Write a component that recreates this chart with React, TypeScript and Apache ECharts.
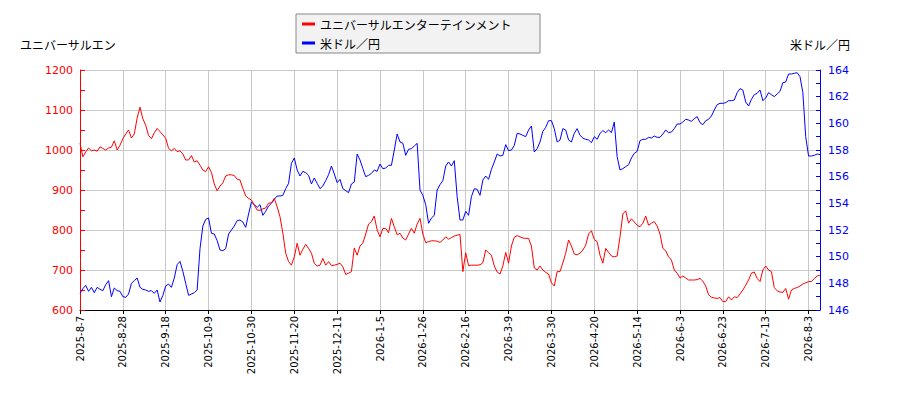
import * as echarts from "echarts";
import { useEffect, useRef } from "react";

const RED = "#ff0000";
const BLUE = "#0000ff";
const GRID = "#c8c8c8";

const stockName = "ユニバーサルエンターテインメント";
const fxName = "米ドル／円";

// labels shown every 15 trading days
const tickLabels = [
  "2025-8-7", "2025-8-28", "2025-9-18", "2025-10-9", "2025-10-30", "2025-11-20",
  "2025-12-11", "2026-1-5", "2026-1-26", "2026-2-16", "2026-3-9", "2026-3-30",
  "2026-4-20", "2026-5-14", "2026-6-3", "2026-6-23", "2026-7-13", "2026-8-3",
];

// share price (yen), one value per trading day
const stockPrice = [
  1017, 983, 995, 1005, 998, 1000, 997, 1008, 1004, 1000,
  1005, 1007, 1023, 1000, 1012, 1028, 1040, 1050, 1030, 1040,
  1080, 1107, 1078, 1062, 1036, 1028, 1043, 1054, 1046, 1038,
  1029, 1004, 998, 1004, 996, 998, 990, 975, 975, 986,
  970, 973, 962, 950, 946, 958, 944, 915, 898, 910,
  918, 935, 938, 938, 936, 927, 925, 904, 885, 879,
  875, 862, 850, 849, 853, 855, 867, 868, 879, 858,
  833, 792, 742, 721, 712, 733, 767, 737, 752, 764,
  754, 742, 717, 710, 712, 729, 712, 721, 711, 712,
  714, 717, 708, 689, 692, 696, 755, 737, 760, 767,
  790, 815, 821, 835, 800, 783, 804, 804, 793, 829,
  808, 788, 792, 780, 775, 790, 804, 792, 815, 829,
  790, 768, 771, 773, 773, 772, 769, 775, 783, 777,
  781, 785, 787, 789, 696, 743, 711, 712, 712, 712,
  713, 718, 750, 743, 737, 710, 695, 690, 710, 744,
  717, 760, 782, 786, 783, 780, 779, 779, 760, 705,
  700, 710, 700, 694, 690, 668, 660, 696, 696, 718,
  742, 775, 760, 740, 738, 742, 750, 762, 790, 798,
  776, 771, 737, 717, 754, 744, 735, 733, 735, 783,
  840, 848, 817, 828, 820, 812, 808, 817, 835, 812,
  817, 821, 810, 790, 754, 748, 733, 725, 700, 692,
  680, 685, 680, 675, 675, 675, 676, 679, 672, 660,
  638, 632, 630, 629, 631, 621, 621, 633, 625, 633,
  631, 640, 650, 662, 675, 692, 695, 679, 671, 700,
  710, 700, 696, 656, 648, 645, 644, 654, 627, 650,
  654, 656, 660, 665, 668, 671, 671, 679, 685, 687,
];

// USD/JPY, same days
const usdJpy = [
  147.25, 147.6, 147.85, 147.4, 147.7, 147.3, 147.7, 147.55, 147.45, 147.9,
  148.2, 147.0, 147.65, 147.45, 147.4, 147.0, 146.95, 147.2, 148.0, 148.2,
  148.4, 147.7, 147.55, 147.5, 147.4, 147.45, 147.25, 147.5, 146.6, 147.1,
  147.8, 147.95, 147.7, 148.4, 149.4, 149.65, 148.9, 148.0, 147.1, 147.2,
  147.3, 147.5, 150.6, 152.3, 152.8, 152.9, 151.75, 151.7, 151.2, 150.5,
  150.45, 150.6, 151.7, 152.0, 152.3, 152.7, 152.75, 152.6, 152.2, 153.2,
  154.1, 153.9, 153.7, 153.9, 153.1, 153.4, 153.8, 154.0, 154.3, 154.55,
  154.55, 154.6, 155.1, 155.5, 157.0, 157.4, 156.5, 156.05, 156.4, 156.3,
  156.1, 155.45, 155.9, 155.5, 155.1, 155.3, 155.7, 156.15, 156.8, 156.2,
  155.55, 155.8, 155.1, 154.95, 154.8, 155.45, 155.6, 157.7, 157.25, 156.6,
  156.0, 156.1, 156.25, 156.5, 156.4, 156.95, 156.6, 156.65, 156.85, 156.85,
  158.0, 159.2, 158.6, 158.5, 157.6, 158.05, 158.1, 158.3, 158.5, 155.0,
  154.6, 153.9, 152.5, 152.9, 153.1, 155.0, 155.4, 155.7, 156.8, 157.1,
  156.8, 157.2, 154.5, 152.75, 152.75, 153.4, 153.1, 154.5, 155.1, 155.05,
  154.6, 155.75, 156.05, 155.8, 156.55, 157.1, 157.7, 157.55, 157.6, 158.4,
  157.95, 158.0, 158.35, 159.25, 159.2, 159.1, 159.0, 159.5, 159.8, 157.85,
  158.1, 158.6, 159.4, 159.7, 160.2, 160.2, 159.6, 158.6, 158.75, 159.6,
  159.5, 158.75, 158.6, 159.25, 159.6, 159.1, 158.9, 158.8, 158.75, 158.55,
  159.0, 158.8, 159.25, 159.45, 159.3, 159.5, 159.3, 160.1, 157.5, 156.5,
  156.6, 156.75, 156.9, 157.4, 157.75, 157.9, 158.7, 158.8, 158.8, 158.95,
  158.9, 159.05, 158.95, 158.95, 159.2, 159.5, 159.3, 159.35, 159.6, 159.95,
  159.95, 160.1, 160.3, 160.25, 160.15, 160.35, 160.5, 160.05, 159.9, 160.2,
  160.3, 160.55, 161.0, 161.4, 161.5, 161.5, 161.55, 161.7, 161.7, 161.75,
  162.3, 162.6, 162.5, 161.6, 161.3, 161.8, 162.15, 162.25, 162.5, 161.7,
  161.9, 162.3, 162.15, 162.0, 162.2, 162.4, 163.05, 163.1, 163.7, 163.7,
  163.75, 163.8, 163.5, 162.3, 159.0, 157.55, 157.55, 157.6, 157.7, 157.65,
];

const days = stockPrice.map((_, i) => String(i));

const labelFont = { fontFamily: "DejaVu Sans", fontSize: 11 };
const jpFont = '"Noto Sans CJK JP", sans-serif';

function buildOption(): echarts.EChartsOption {
  return {
    animation: false,
    backgroundColor: "#ffffff",
    grid: { left: 80, right: 80, top: 70, bottom: 90 },
    legend: {
      orient: "vertical",
      left: 296,
      top: 14,
      padding: [4, 28, 4, 6],
      itemGap: 7,
      itemWidth: 13,
      itemHeight: 3,
      icon: "rect",
      backgroundColor: "#f2f2f2",
      borderColor: "#888888",
      borderWidth: 1,
      borderRadius: 0,
      textStyle: { color: "#000", fontSize: 12, fontFamily: jpFont },
      data: [stockName, fxName],
    },
    graphic: [
      {
        type: "text",
        left: 20,
        top: 38,
        style: { text: "ユニバーサルエン", fill: "#000", font: `12px ${jpFont}` },
      },
      {
        type: "text",
        right: 50,
        top: 38,
        style: { text: fxName, fill: "#000", font: `12px ${jpFont}` },
      },
    ],
    xAxis: {
      type: "category",
      data: days,
      boundaryGap: false,
      axisLine: { lineStyle: { color: "#000", width: 1 } },
      axisTick: { interval: 14, length: 4, lineStyle: { color: "#000" } },
      axisLabel: {
        interval: 14,
        rotate: 90,
        margin: 6,
        color: "#000",
        ...labelFont,
        fontSize: 10,
        formatter: (_v: string, idx: number) => tickLabels[idx / 15] ?? "",
      },
      splitLine: { show: true, interval: 14, lineStyle: { color: GRID, width: 1 } },
    },
    yAxis: [
      {
        type: "value",
        min: 600,
        max: 1200,
        interval: 100,
        position: "left",
        axisLine: { show: true, lineStyle: { color: RED, width: 1 } },
        axisTick: { show: true, inside: true, length: 5, lineStyle: { color: RED } },
        minorTick: { show: true, splitNumber: 2, length: 5, lineStyle: { color: RED } },
        axisLabel: { color: RED, margin: 7, ...labelFont, formatter: (v: number) => String(v) },
        splitLine: { show: true, lineStyle: { color: GRID, width: 1 } },
      },
      {
        type: "value",
        min: 146,
        max: 164,
        interval: 2,
        position: "right",
        axisLine: { show: true, lineStyle: { color: BLUE, width: 1 } },
        axisTick: { show: true, inside: true, length: 4, lineStyle: { color: BLUE } },
        minorTick: { show: true, splitNumber: 2, length: 4, lineStyle: { color: BLUE } },
        axisLabel: { color: BLUE, margin: 8, ...labelFont, formatter: (v: number) => String(v) },
        splitLine: { show: false },
      },
    ],
    series: [
      {
        name: stockName,
        type: "line",
        yAxisIndex: 0,
        data: stockPrice,
        showSymbol: false,
        lineStyle: { color: RED, width: 1 },
        itemStyle: { color: RED },
        z: 3,
      },
      {
        name: fxName,
        type: "line",
        yAxisIndex: 1,
        data: usdJpy,
        showSymbol: false,
        lineStyle: { color: BLUE, width: 1 },
        itemStyle: { color: BLUE },
        z: 2,
      },
    ],
  };
}

export default function App() {
  const ref = useRef<HTMLDivElement>(null);

  useEffect(() => {
    const el = ref.current;
    if (!el) return;
    const chart = echarts.init(el, undefined, { renderer: "svg" });
    chart.setOption(buildOption());
    return () => chart.dispose();
  }, []);

  return (
    <div
      ref={ref}
      style={{ position: "absolute", left: 0, top: 0, width: 900, height: 400, background: "#fff" }}
    />
  );
}
